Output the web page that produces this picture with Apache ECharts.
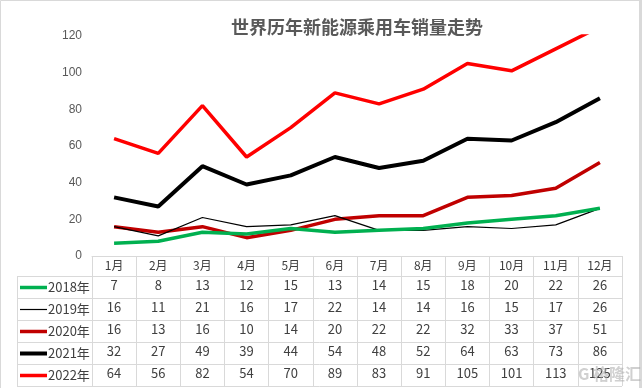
<!DOCTYPE html>
<html>
<head>
<meta charset="utf-8">
<script src="https://cdn.jsdelivr.net/npm/echarts@6/dist/echarts.min.js"></script>
<style>
html,body{margin:0;padding:0;background:#fff;}
#c{width:642px;height:388px;}
</style>
</head>
<body>
<div id="c"></div>
<script>
const titleText = '世界历年新能源乘用车销量走势';
const months = ['1月','2月','3月','4月','5月','6月','7月','8月','9月','10月','11月','12月'];
const seriesNames = ['2018年','2019年','2020年','2021年','2022年'];
const s2018 = [7,8,13,12,15,13,14,15,18,20,22,26];
const s2019 = [16,11,21,16,17,22,14,14,16,15,17,26];
const s2020 = [16,13,16,10,14,20,22,22,32,33,37,51];
const s2021 = [32,27,49,39,44,54,48,52,64,63,73,86];
const s2022 = [64,56,82,54,70,89,83,91,105,101,113,125];
const yTicks = [0,20,40,60,80,100,120];

const allData = [s2018,s2019,s2020,s2021,s2022];
const colors = ['#00b050','#000000','#c00000','#000000','#ff0000'];
const widths = [3.5,1.2,3.5,4,3.5];

const FONT = '"Noto Sans CJK SC", "Liberation Sans", sans-serif';
const GRID = {left:92, right:20, top:36, bottom:132};
const HEADER_H = 20, ROW_H = 22;
const gridBottomY = 388 - GRID.bottom;
const tableBottomY = gridBottomY + HEADER_H + ROW_H * seriesNames.length;

const xAxes = [{
  type:'category', data:months, position:'bottom', gridIndex:0,
  boundaryGap:true,
  axisLine:{show:true, lineStyle:{color:'#d9d9d9', width:1}},
  axisTick:{show:true, length: tableBottomY - gridBottomY, lineStyle:{color:'#d9d9d9'}},
  axisLabel:{margin:3, fontSize:12, color:'#404040', fontFamily:FONT}
}];
allData.forEach((arr, i) => {
  xAxes.push({
    type:'category', data:arr.map(String), position:'bottom', gridIndex:0,
    offset: HEADER_H + ROW_H * i,
    boundaryGap:true,
    axisLine:{show:false}, axisTick:{show:false},
    axisLabel:{margin:3, fontSize:13, color:'#404040', fontFamily:FONT, interval:0}
  });
});

const series = allData.map((arr, i) => ({
  name: seriesNames[i], type:'line', data: arr, xAxisIndex:0,
  symbol:'none', showSymbol:false, smooth:false, clip:true,
  lineStyle:{color:colors[i], width:widths[i]},
  itemStyle:{color:colors[i]},
  z: 10 - i
}));

const graphics = [];
// horizontal table lines
graphics.push({type:'line', shape:{x1:GRID.left, y1:gridBottomY+0.5, x2:642-GRID.right, y2:gridBottomY+0.5}, style:{stroke:'#d9d9d9', lineWidth:1}, silent:true});
for (let r = 0; r <= seriesNames.length; r++) {
  const y = Math.round(gridBottomY + HEADER_H + ROW_H * r) + 0.5;
  graphics.push({type:'line', shape:{x1:17, y1:y, x2:642-GRID.right, y2:y}, style:{stroke:'#d9d9d9', lineWidth:1}, silent:true});
}
graphics.push({type:'line', shape:{x1:17.5, y1:gridBottomY+HEADER_H, x2:17.5, y2:tableBottomY}, style:{stroke:'#d9d9d9', lineWidth:1}, silent:true});
// row headers (legend keys)
seriesNames.forEach((name, i) => {
  const cy = gridBottomY + HEADER_H + ROW_H * i + ROW_H / 2 + 0.5;
  graphics.push({type:'line', shape:{x1:20, y1:cy, x2:47, y2:cy}, style:{stroke:colors[i], lineWidth:widths[i]}, silent:true});
  graphics.push({type:'text', x:48, y:cy, style:{text:name, fill:'#404040', font:'13px ' + FONT, textVerticalAlign:'middle', textAlign:'left'}, silent:true});
});
// outer border
graphics.push({type:'rect', shape:{x:0.5, y:0.5, width:639, height:388}, style:{fill:'none', stroke:'#d9d9d9', lineWidth:1}, silent:true});
graphics.push({type:'line', shape:{x1:640.5, y1:0, x2:640.5, y2:388}, style:{stroke:'#d9d9d9', lineWidth:3}, silent:true});
// watermark
graphics.push({type:'text', left:578, top:366, style:{text:'G 格隆汇', fill:'rgba(170,170,170,0.55)', font:'bold 16px ' + FONT}, silent:true, z:100});

const option = {
  backgroundColor:'#ffffff',
  animation:false,
  title:{
    text:titleText, left:352, top:13, textAlign:'center',
    textStyle:{fontSize:18, fontWeight:'bold', color:'#595959', fontFamily:FONT}
  },
  grid:GRID,
  xAxis: xAxes,
  yAxis:{
    type:'value', min:0, max:120, interval:20,
    axisLine:{show:false}, axisTick:{show:false}, splitLine:{show:false},
    axisLabel:{fontSize:12, color:'#595959', fontFamily:'"Liberation Sans", Arial, sans-serif', margin:10,
      formatter: v => yTicks.includes(v) ? String(v) : ''}
  },
  series: series,
  graphic: graphics
};
const chart = echarts.init(document.getElementById('c'), null, {renderer:'canvas'});
chart.setOption(option);
</script>
</body>
</html>
